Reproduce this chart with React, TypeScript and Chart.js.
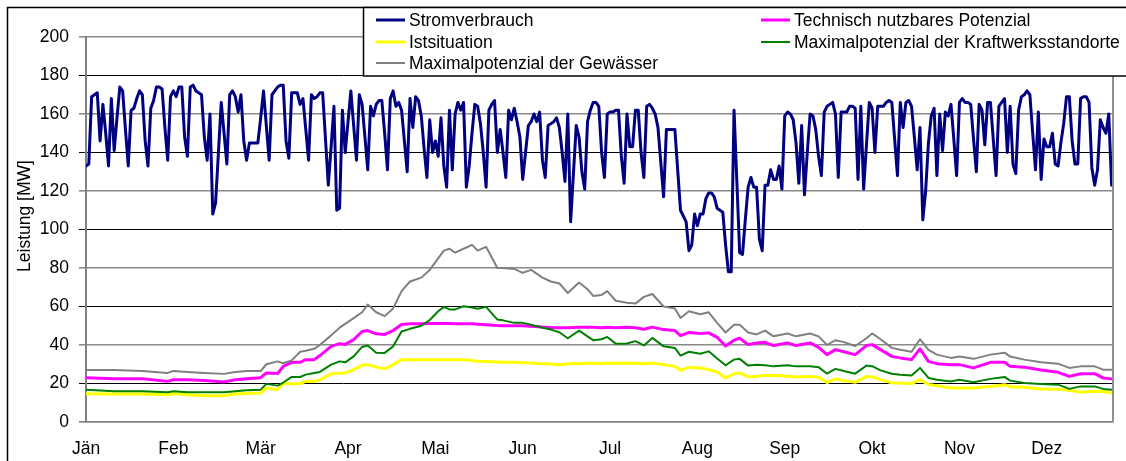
import { useEffect, useRef } from "react";
import { Chart, registerables } from "chart.js";

Chart.register(...registerables);

const FONT = "'Liberation Sans', Arial, sans-serif";
const FS = 17.5;

const months = ["Jän", "Feb", "Mär", "Apr", "Mai", "Jun", "Jul", "Aug", "Sep", "Okt", "Nov", "Dez"];
const monthTickDays = [0, 31, 62, 93, 124, 155, 186, 217, 248, 279, 310, 341];
const yTicks = [0, 20, 40, 60, 80, 100, 120, 140, 160, 180, 200];

// Stromverbrauch, one value per day (365)
const stromverbrauch = [
  133, 134, 169, 170, 171, 146, 165, 150, 133, 168,
  141, 158, 174, 172, 152, 133, 162, 163, 168, 172,
  170, 146, 133, 163, 167, 174, 174, 173, 153, 136,
  169, 172, 169, 174, 174, 148, 138, 174, 175, 172,
  171, 170, 148, 136, 160, 108, 114, 140, 166, 150,
  134, 170, 172, 169, 161, 170, 146, 136, 145, 145,
  145, 145, 158, 172, 154, 136, 170, 172, 174, 175,
  175, 146, 137, 171, 171, 171, 165, 168, 152, 136,
  170, 168, 169, 171, 171, 147, 123, 143, 164, 110,
  111, 162, 140, 156, 172, 154, 136, 170, 165, 148,
  131, 164, 159, 165, 167, 167, 150, 131, 168, 172,
  164, 166, 162, 146, 130, 168, 153, 169, 167, 159,
  142, 127, 157, 140, 146, 138, 158, 133, 122, 162,
  131, 160, 166, 162, 166, 122, 133, 150, 165, 164,
  155, 140, 122, 162, 165, 167, 140, 152, 140, 127,
  162, 157, 163, 156, 148, 126, 140, 154, 156, 160,
  156, 161, 136, 127, 154, 155, 156, 158, 153, 140,
  125, 160, 104, 129, 154, 148, 130, 121, 156, 162,
  166, 166, 164, 140, 127, 160, 161, 161, 162, 162,
  138, 124, 160, 143, 143, 162, 162, 140, 127, 164,
  165, 163, 160, 153, 135, 117, 152, 152, 152, 152,
  131, 110, 107, 104, 89, 92, 108, 102, 108, 108,
  116, 119, 119, 117, 111, 110, 109, 92, 78, 78,
  162, 125, 88, 87, 105, 122, 127, 122, 122, 95,
  89, 123, 123, 131, 126, 126, 133, 121, 159, 161,
  160, 157, 145, 124, 154, 118, 140, 160, 159, 152,
  138, 128, 161, 164, 165, 166, 160, 127, 161, 161,
  161, 164, 164, 163, 126, 164, 121, 144, 166, 163,
  140, 164, 164, 164, 166, 167, 166, 147, 128, 166,
  153, 166, 167, 164, 148, 131, 153, 105, 120, 145,
  159, 163, 128, 160, 141, 161, 159, 165, 147, 128,
  166, 168, 166, 166, 165, 147, 130, 165, 162, 144,
  166, 166, 147, 128, 164, 166, 168, 140, 164, 134,
  129, 162, 169, 170, 172, 170, 150, 131, 161, 126,
  147, 143, 143, 150, 134, 133, 145, 155, 169, 169,
  146, 134, 134, 168, 169, 169, 166, 132, 123, 131,
  157, 153, 150, 160, 123,
];

// days at which the potential series were read
const potDays = [
  0, 10, 20, 29, 31, 36, 42, 49, 53, 57,
  62, 64, 68, 70, 73, 76, 78, 81, 83, 87,
  90, 92, 95, 98, 100, 103, 106, 109, 112, 115,
  119, 122, 125, 127, 129, 131, 134, 137, 139, 142,
  146, 148, 152, 155, 158, 162, 165, 168, 171, 175,
  178, 180, 183, 185, 188, 192, 195, 198, 201, 205,
  209, 211, 214, 218, 221, 224, 227, 230, 232, 235,
  238, 241, 244, 249, 252, 257, 260, 263, 266, 269,
  273, 277, 279, 282, 286, 289, 293, 296, 299, 302,
  307, 310, 315, 321, 326, 328, 333, 339, 345, 349,
  353, 358, 361, 364,
];

const technisch = [
  23, 22.5, 22.5, 21.1, 22, 22, 21.5, 20.8, 22, 22.5,
  23, 25.5, 25.2, 28.9, 31, 31, 32.4, 32.4, 34.5, 39.3,
  40.7, 40.3, 42.8, 47, 47.5, 45.8, 45.5, 47.5, 50.6, 51,
  51, 51.2, 51.2, 51.2, 51.2, 51.1, 51.1, 51, 50.8, 50.5,
  50.1, 50, 50, 50, 49.7, 49.3, 49, 48.9, 49, 49.2,
  49.2, 49.2, 49, 49.2, 49, 49.2, 49, 48.2, 49.3, 48,
  47.5, 44.9, 46.5, 46, 46.3, 44, 39.5, 42.5, 43.5, 40.2,
  41, 41.4, 39.7, 41.1, 39.7, 41.1, 38.8, 35, 37.6, 36.5,
  35, 39.7, 40.2, 37.6, 34.1, 33.3, 32.4, 38, 31.5, 30.3,
  29.8, 29.8, 28.1, 31, 31, 28.9, 28.5, 27, 25.8, 23.7,
  25.1, 25.1, 22.9, 22.4,
];

const istsituation = [
  14.7, 14.5, 14.5, 14.2, 14.8, 14.2, 13.7, 13.7, 14.5, 14.8,
  15.1, 17.7, 16.8, 20.3, 19.8, 20, 21.1, 21.1, 21.8, 25.1,
  25.3, 25.5, 27.2, 29.5, 29.8, 28.5, 27.6, 29.8, 32.4, 32.4,
  32.4, 32.4, 32.4, 32.4, 32.4, 32.4, 32.4, 32, 31.5, 31.4,
  31.2, 31, 31, 30.8, 30.6, 30.3, 30.1, 29.8, 30.2, 30.3,
  30.5, 30.5, 30.3, 30.6, 30.5, 30.7, 30.5, 30.3, 30.6, 29.8,
  28.9, 26.9, 28.5, 28, 27.2, 26, 22.9, 25, 25.5, 23.4,
  23.8, 24.1, 24.1, 23.8, 23.4, 23.7, 23.2, 20.5, 22.4, 21.5,
  20.6, 23.7, 23.5, 22, 20.3, 20.2, 19.9, 22, 19.5, 18.9,
  17.7, 17.7, 17.7, 18.5, 19.4, 18.3, 18, 17.2, 17, 16.5,
  15.5, 16, 15.9, 15.1,
];

const kraftwerk = [
  16.8, 16, 16, 15.5, 16, 15.5, 15.4, 15.4, 16, 16.5,
  16.8, 19.8, 18.9, 20.5, 23.4, 23.4, 24.6, 25.5, 26, 29.8,
  31.5, 31, 34.1, 39, 39.7, 36, 35.9, 39.3, 47, 48.4,
  50, 53, 57.5, 59.8, 58.5, 58.5, 60.1, 59.5, 58.8, 59.8,
  53.2, 52.8, 51.5, 51.5, 50.5, 49, 48, 46.6, 43.5, 47.5,
  44.5, 42.5, 43, 44.2, 40.7, 40.8, 42, 39.8, 43.7, 39.3,
  38.5, 34.5, 36.5, 35.5, 36.7, 33, 29.5, 32.4, 32.8, 29.3,
  29.8, 29.5, 28.9, 29.5, 28.9, 29, 28.5, 25.1, 27.6, 26.5,
  25.1, 29.3, 29, 26.8, 25.1, 24.5, 24.1, 28.1, 22.9, 22,
  21.1, 22, 20.6, 22.4, 23.4, 21.5, 20.3, 19.8, 19.4, 17.2,
  18.5, 18.5, 17.2, 16.8,
];

const gewaesser = [
  27, 27, 26.5, 25.5, 26.5, 26, 25.5, 25, 26, 26.5,
  26.5, 30, 31.5, 30.5, 32, 36.5, 37, 38, 40, 45,
  49, 51, 54, 57, 61, 57, 55, 59, 68, 73,
  75, 79, 85, 89, 90, 88, 90, 92, 89, 91,
  80, 80, 79.5, 77.5, 79, 75, 73, 72, 67, 72.5,
  69, 65.5, 66, 68, 63, 62, 61.5, 65, 66.5, 60,
  59, 54, 57.5, 56, 57, 51.5, 46.5, 50.5, 50.5, 46.5,
  45.5, 47.5, 44.5, 46, 44.5, 46, 44.5, 40, 42.5, 41.5,
  39.5, 43.5, 46, 43, 38.5, 37.5, 36.5, 43, 37.5, 35,
  33.3, 34, 32.8, 35, 36, 34, 32.4, 31, 30.3, 28.1,
  28.9, 28.9, 27.2, 27.2,
];

const seriesNames = [
  "Stromverbrauch",
  "Technisch nutzbares Potenzial",
  "Istsituation",
  "Maximalpotenzial der Kraftwerksstandorte",
  "Maximalpotenzial der Gewässer",
];
const seriesColors = ["#000080", "#ff00ff", "#ffff00", "#008000", "#808080"];
const seriesWidths = [3, 3, 3, 2, 2];

export default function App() {
  const ref = useRef<HTMLCanvasElement | null>(null);

  useEffect(() => {
    document.body.style.margin = "0";
    const canvas = ref.current;
    if (!canvas) return;

    const daily = stromverbrauch.map((v, i) => ({ x: i, y: v }));
    const sampled = (vals: number[]) => vals.map((v, i) => ({ x: potDays[i], y: v }));

    const frame = {
      id: "frame",
      beforeDraw(chart: any) {
        const c = chart.ctx;
        c.save();
        c.fillStyle = "#ffffff";
        c.fillRect(0, 0, chart.width, chart.height);
        c.restore();
      },
      afterDraw(chart: any) {
        const c = chart.ctx;
        const a = chart.chartArea;
        c.save();
        // right plot edge
        c.strokeStyle = "#909090";
        c.lineWidth = 2;
        c.beginPath();
        c.moveTo(a.right, a.top);
        c.lineTo(a.right, a.bottom);
        c.stroke();
        // outer border
        c.strokeStyle = "#000";
        c.lineWidth = 1.5;
        c.strokeRect(7.5, 7.5, 1400, 1400);
        // legend box
        c.fillStyle = "#fff";
        c.fillRect(363, 7, 900, 69);
        c.lineWidth = 1.5;
        c.strokeRect(363.5, 7.5, 900, 68.5);
        const items = [
          { i: 0, x: 376, y: 20 },
          { i: 1, x: 761, y: 20 },
          { i: 2, x: 376, y: 42 },
          { i: 3, x: 761, y: 42 },
          { i: 4, x: 376, y: 63 },
        ];
        c.font = `${FS}px ${FONT}`;
        c.textBaseline = "middle";
        c.textAlign = "left";
        for (const it of items) {
          c.strokeStyle = seriesColors[it.i];
          c.lineWidth = seriesWidths[it.i];
          c.beginPath();
          c.moveTo(it.x, it.y);
          c.lineTo(it.x + 29, it.y);
          c.stroke();
          c.fillStyle = "#000";
          c.fillText(seriesNames[it.i], it.x + 33, it.y + 1);
        }
        // y title
        c.translate(25, 216);
        c.rotate(-Math.PI / 2);
        c.textAlign = "center";
        c.fillText("Leistung [MW]", 0, 0);
        c.restore();
      },
    };

    const chart = new Chart(canvas, {
      type: "line",
      data: {
        datasets: [
          { label: seriesNames[0], data: daily, borderColor: seriesColors[0], borderWidth: 3 },
          { label: seriesNames[4], data: sampled(gewaesser), borderColor: seriesColors[4], borderWidth: 2 },
          { label: seriesNames[3], data: sampled(kraftwerk), borderColor: seriesColors[3], borderWidth: 2 },
          { label: seriesNames[1], data: sampled(technisch), borderColor: seriesColors[1], borderWidth: 3 },
          { label: seriesNames[2], data: sampled(istsituation), borderColor: seriesColors[2], borderWidth: 3 },
        ],
      },
      options: {
        animation: false,
        responsive: false,
        parsing: false,
        layout: { padding: { top: 37, right: 13, left: 0, bottom: 0 } },
        elements: { point: { radius: 0 }, line: { tension: 0, borderJoinStyle: "round", borderCapStyle: "round" } },
        plugins: { legend: { display: false }, tooltip: { enabled: false } },
        scales: {
          x: {
            type: "linear",
            min: 0,
            max: 364.5,
            afterBuildTicks: (s: any) => {
              s.ticks = monthTickDays.map((d) => ({ value: d }));
            },
            afterFit: (s: any) => {
              s.height = 39;
            },
            ticks: {
              autoSkip: false,
              maxRotation: 0,
              padding: 17,
              color: "#000",
              font: { family: FONT, size: FS },
              callback: (v: any) => months[monthTickDays.indexOf(Number(v))] ?? "",
            },
            grid: { display: false, drawTicks: false },
            border: { display: true, color: "#808080", width: 1.5 },
          },
          y: {
            min: 0,
            max: 200,
            afterBuildTicks: (s: any) => {
              s.ticks = yTicks.map((v) => ({ value: v }));
            },
            afterFit: (s: any) => {
              s.width = 86;
            },
            ticks: {
              padding: 10,
              color: "#000",
              font: { family: FONT, size: FS },
            },
            grid: {
              tickLength: 7,
              color: (ctx: any) => {
                const v = ctx.tick ? ctx.tick.value : 0;
                if (v === 0) return "#808080";
                return (v / 20) % 2 === 1 ? "#000000" : "#8a8a8a";
              },
              lineWidth: (ctx: any) => {
                const v = ctx.tick ? ctx.tick.value : 0;
                return (v / 20) % 2 === 1 ? 1 : 1.6;
              },
            },
            border: { display: true, color: "#808080", width: 2 },
          },
        },
      },
      plugins: [frame],
    } as any);

    return () => chart.destroy();
  }, []);

  return <canvas ref={ref} width={1126} height={461} style={{ display: "block" }} />;
}
